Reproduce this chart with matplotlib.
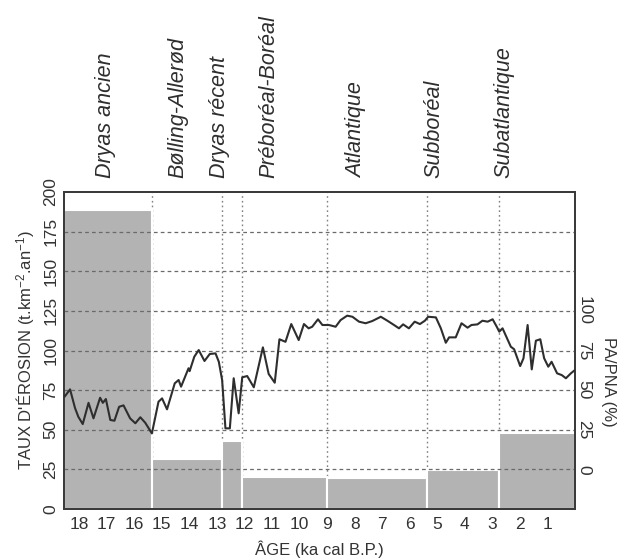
import numpy as np
import matplotlib
matplotlib.use("Agg")
import matplotlib.pyplot as plt
import matplotlib.transforms as mtransforms

plt.rcParams['font.family'] = ['Liberation Sans', 'DejaVu Sans']
plt.rcParams['mathtext.fontset'] = 'custom'
plt.rcParams['mathtext.rm'] = 'Liberation Sans'
plt.rcParams['mathtext.it'] = 'Liberation Sans:italic'

# Périodes climatiques (limites en ka cal B.P.) et taux d'érosion
periodes = ["Dryas ancien", "Bølling-Allerød", "Dryas récent", "Préboréal-Boréal",
            "Atlantique", "Subboréal", "Subatlantique"]
limites = [18.55, 15.35, 12.8, 12.1, 9.0, 5.38, 2.75, 0.0]
erosion = [188.5, 31.5, 43, 20.4, 19.4, 24.6, 48]

# Rapport pollinique PA/PNA (%)
age_pa = [18.52, 18.33, 18.15, 18.03, 17.87, 17.66, 17.48, 17.24, 17.14, 17.03,
          16.87, 16.72, 16.55, 16.39, 16.15, 15.96, 15.78, 15.60, 15.36, 15.12,
          14.99, 14.81, 14.53, 14.39, 14.30, 14.03, 13.99, 13.82, 13.66, 13.45,
          13.26, 13.05, 12.93, 12.81, 12.69, 12.53, 12.39, 12.21, 12.08, 11.90,
          11.66, 11.33, 11.12, 10.90, 10.73, 10.51, 10.30, 10.03, 9.84, 9.67,
          9.54, 9.33, 9.17, 8.93, 8.69, 8.51, 8.27, 8.08, 7.84, 7.60,
          7.36, 7.05, 6.81, 6.57, 6.39, 6.24, 6.03, 5.82, 5.63, 5.45,
          5.33, 5.05, 4.87, 4.69, 4.57, 4.33, 4.12, 3.90, 3.76, 3.54,
          3.36, 3.17, 2.99, 2.84, 2.75, 2.63, 2.33, 2.21, 1.99, 1.87,
          1.72, 1.57, 1.42, 1.26, 1.12, 0.97, 0.85, 0.65, 0.48, 0.33,
          0.15, 0.03]
pa_pna = [46.1, 50.5, 38.7, 33.2, 28.6, 42.0, 32.2, 45.2, 42.0, 44.4,
          31.2, 30.7, 39.5, 40.4, 32.2, 29.1, 32.9, 29.4, 22.7, 42.7,
          44.8, 37.9, 54.3, 56.4, 52.2, 63.8, 62.0, 71.1, 75.3, 68.4,
          72.8, 73.2, 67.9, 56.4, 25.9, 25.9, 57.5, 35.4, 58.1, 58.9,
          51.8, 77.0, 60.2, 54.7, 82.1, 80.5, 91.7, 81.6, 91.7, 89.0,
          90.0, 94.7, 91.1, 91.1, 90.0, 94.2, 97.0, 96.3, 93.2, 92.2,
          93.6, 96.3, 93.8, 91.1, 89.0, 91.5, 89.0, 93.2, 91.7, 93.8,
          96.3, 95.9, 89.0, 79.9, 83.3, 83.3, 92.2, 89.4, 91.1, 91.5,
          93.8, 93.2, 94.7, 90.0, 86.9, 89.0, 77.4, 75.8, 65.2, 70.1,
          91.1, 63.1, 81.2, 82.1, 70.1, 64.8, 67.9, 60.6, 59.5, 57.5,
          60.6, 62.3]

ages_ticks = list(range(18, 0, -1))
pos_titres = [17.05, 14.4, 12.9, 11.13, 7.93, 5.13, 2.58]

fig = plt.figure(figsize=(6.3, 5.59), dpi=100)
ax = fig.add_axes([0.1016, 0.0894, 0.8111, 0.5671])

gris_fonce = '#3a3a3a'

# barres des taux d'érosion
for i, val in enumerate(erosion):
    ax.bar(limites[i + 1], val, width=limites[i] - limites[i + 1], align='edge',
           color='#b3b3b3', edgecolor='white', linewidth=1.5, zorder=2)

# limites des périodes
for b in limites[1:-1]:
    ax.axvline(b, color='#808080', linestyle=(0, (1.2, 2.2)), linewidth=1.0, zorder=1)

# quadrillage horizontal
for yv in range(25, 200, 25):
    ax.axhline(yv, color='#6a6a6a', linestyle=(0, (3, 2.5)), linewidth=0.9, zorder=3)

ax.set_xlim(limites[0], limites[-1])
ax.set_ylim(0, 200)
ax.set_xticks(ages_ticks)
ax.set_xticklabels([str(a) for a in ages_ticks], fontsize=12.5, color='#333333')
ax.tick_params(axis='x', direction='in', length=5, width=1, color=gris_fonce, pad=6)
ax.set_yticks(range(0, 201, 25))
ax.set_yticklabels([str(v) for v in range(0, 201, 25)], rotation=90, va='center',
                   fontsize=12.5, color='#333333')
ax.tick_params(axis='y', length=0, pad=4)
ax.set_xlabel("ÂGE (ka cal B.P.)", fontsize=12, color='#333333', labelpad=6)
ax.set_ylabel("TAUX D'ÉROSION (t.km$^{-2}$.an$^{-1}$)", fontsize=12,
              color='#333333', labelpad=5)
for sp in ax.spines.values():
    sp.set_color(gris_fonce)
    sp.set_linewidth(1.3)

# courbe PA/PNA sur l'axe de droite
ax2 = ax.twinx()
ax2.plot(age_pa, pa_pna, color='#2e2e2e', linewidth=1.5, zorder=4)
ax2.set_ylim(-25, 175)
ax2.set_yticks([0, 25, 50, 75, 100])
ax2.set_yticklabels(['0', '25', '50', '75', '100'], rotation=-90, va='center',
                    fontsize=12.5, color='#333333')
ax2.tick_params(axis='y', length=0, pad=1)
ax2.set_ylabel("PA/PNA (%)", rotation=-90, fontsize=12, color='#333333')
ax2.yaxis.set_label_coords(1.08, 0.40)
for sp in ax2.spines.values():
    sp.set_color(gris_fonce)
    sp.set_linewidth(1.3)

# noms des périodes au-dessus du graphique
trans = mtransforms.blended_transform_factory(ax.transData, ax.transAxes)
for nom, xp in zip(periodes, pos_titres):
    ax.text(xp, 1.045, nom, transform=trans, rotation=90, ha='center', va='bottom',
            fontsize=15.5, style='italic', color='#2e2e2e')

fig.savefig("out.png", dpi=100)
